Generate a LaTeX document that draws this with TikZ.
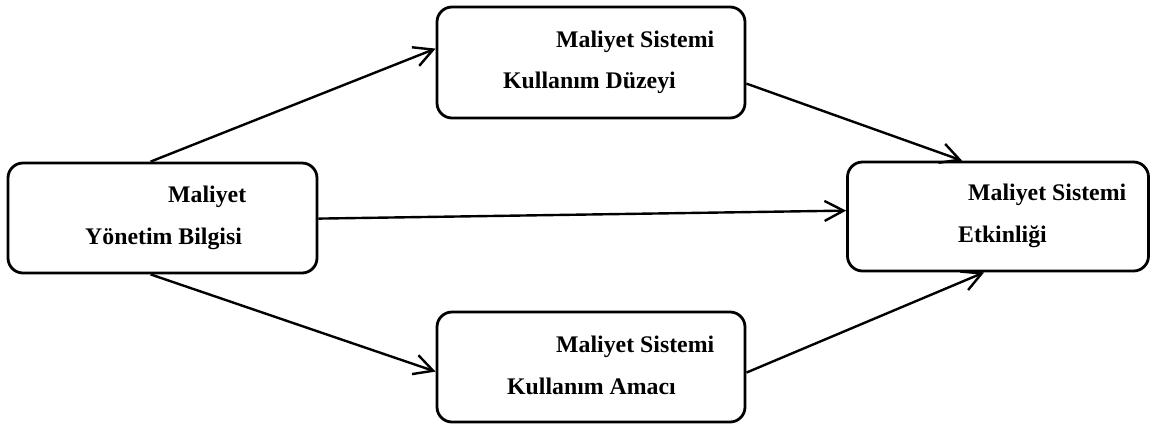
\documentclass[tikz,border=0pt]{standalone}
\usepackage{fontspec}
\setmainfont{Liberation Serif}
\usetikzlibrary{arrows.meta,calc}
\tikzset{
  boxnode/.style={draw=black, line width=2.8pt, rounded corners=15pt, inner sep=0pt},
  lbl/.style={anchor=base west, inner sep=0pt, font=\fontsize{23.8}{28}\selectfont\bfseries},
  arr/.style={draw=black, line width=2.4pt, -{Straight Barb[length=19pt,width=20pt,line width=2.4pt]}},
}
\begin{document}
\begin{tikzpicture}[x=1pt,y=-1pt]
\useasboundingbox (0,0) rectangle (1150,424);
% boxes
\node[boxnode, minimum width=309pt, minimum height=110pt] (L) at (162.5,218) {};
\node[boxnode, minimum width=308pt, minimum height=111pt] (T) at (591,62.5) {};
\node[boxnode, minimum width=308pt, minimum height=110pt] (B) at (591,367) {};
\node[boxnode, minimum width=301pt, minimum height=109pt] (R) at (998,216.5) {};
% labels
\node[lbl] (l1) at (168,202) {Maliyet};
\node[lbl] (l2) at (85,244) {Yönetim Bilgisi};
\node[lbl] (t1) at (556,47) {Maliyet Sistemi};
\node[lbl] (t2) at (503,88) {Kullanım Düzeyi};
\node[lbl] (b1) at (556,352) {Maliyet Sistemi};
\node[lbl] (b2) at (507,394) {Kullanım Amacı};
\node[lbl] (r1) at (968,200) {Maliyet Sistemi};
\node[lbl] (r2) at (958,242) {Etkinliği};
% connectors
\draw[arr] ($(L.north west)+(144,0)$) -- ($(T.north west)+(0,43)$);
\draw[arr] ($(T.north east)+(0,78)$) -- ($(R.north west)+(116,0)$);
\draw[arr] ($(L.north east)+(0,57)$) -- ($(R.north west)+(0,50)$);
\draw[arr] ($(L.south west)+(144,0)$) -- ($(B.north west)+(0,61)$);
\draw[arr] ($(B.north east)+(0,62)$) -- ($(R.south west)+(138,0)$);
\end{tikzpicture}
\end{document}
